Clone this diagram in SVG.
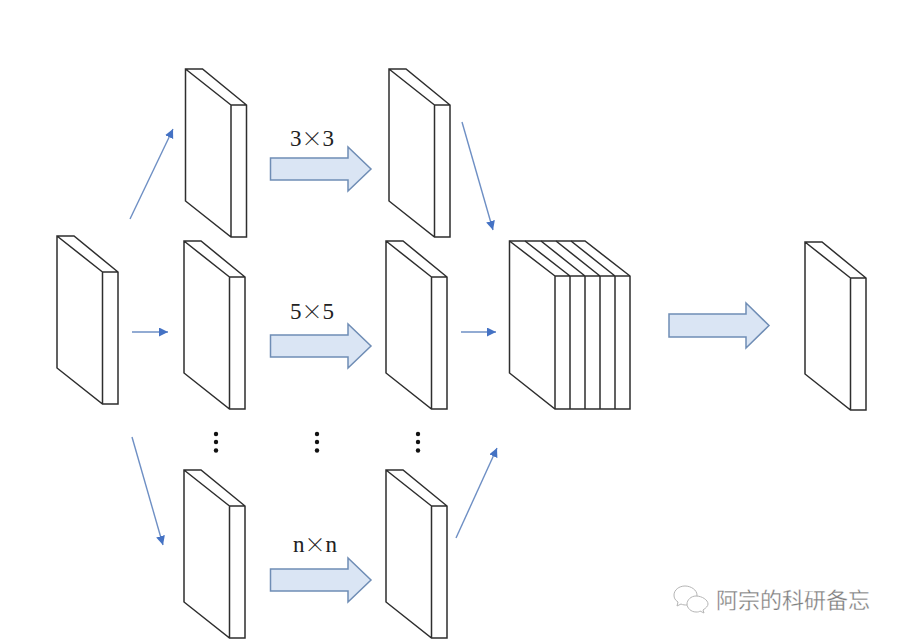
<svg xmlns="http://www.w3.org/2000/svg" width="897" height="640" viewBox="0 0 897 640">
<style>
.p{fill:#fff;stroke:#2e2e2e;stroke-width:1.5;stroke-linejoin:miter}
.b{fill:#dae5f4;stroke:#6f8db5;stroke-width:1.5}
.c{fill:none;stroke:#6e8fc4;stroke-width:1.4}
.l{font-family:"Liberation Serif","Noto Sans CJK SC",serif;font-size:23px;fill:#222;text-anchor:middle}
.x{font-family:"Noto Sans CJK SC",sans-serif;font-size:21px;font-weight:300}
.d{fill:#111}
.w{font-family:"Noto Sans CJK SC",sans-serif;font-size:22px;fill:#7d7d7d;stroke:#fff;stroke-width:0.3}
.i{fill:#fff;stroke:#b5b5b5;stroke-width:1}
</style>
<defs>
<marker id="a" markerUnits="userSpaceOnUse" markerWidth="10" markerHeight="10" refX="9" refY="4.5" orient="auto"><path d="M0 0L9 4.500L0 9Z" fill="#4472c4"/></marker>
<g id="plate"><path class="p" d="M0 0H17L62 36V168H46L0 132ZM0 0L46 36V168M46 36H62"/></g>
<g id="plate2"><path class="p" d="M0 0H17L61 36V168H45.500L0 132ZM0 0L45.500 36V168M45.500 36H61"/></g>
<g id="dots"><circle class="d" cy="0" r="2.200"/><circle class="d" cy="8" r="2.200"/><circle class="d" cy="16.500" r="2.200"/></g>
</defs>
<rect width="897" height="640" fill="#fff"/>
<g id="connectors">
<path class="c" marker-end="url(#a)" d="M130 219L173 129"/>
<path class="c" marker-end="url(#a)" d="M132 332H168"/>
<path class="c" marker-end="url(#a)" d="M132 437L163 545"/>
<path class="c" marker-end="url(#a)" d="M462 122L493 230"/>
<path class="c" marker-end="url(#a)" d="M461 332H496"/>
<path class="c" marker-end="url(#a)" d="M456 538L497 448"/>
</g>
<g id="input"><use href="#plate2" x="57" y="236"/></g>
<g id="branch1a"><use href="#plate2" x="185.500" y="69"/></g>
<g id="branch2a"><use href="#plate2" x="184" y="241"/></g>
<g id="branchna"><use href="#plate2" x="184" y="470"/></g>
<g id="branch1b"><use href="#plate2" x="389" y="69"/></g>
<g id="branch2b"><use href="#plate2" x="386" y="241"/></g>
<g id="branchnb"><use href="#plate2" x="386" y="470"/></g>
<g id="output"><use href="#plate2" x="805" y="242"/></g>
<g id="stack">
<path class="p" d="M509.500 241H585L630 276V409H555L509.500 373Z"/>
<path class="p" style="fill:none" d="M509.500 241L555 276V409M525 241L570 276V409M541 241L585 276V409M556 241L600 276V409M571 241L615 276V409M555 276H630"/>
</g>
<g id="arrow1"><path class="b" d="M270.500 158H348V147L371 169L348 191V180H270.500Z"/></g>
<g id="arrow2"><path class="b" d="M270.500 335H348V324L371 346L348 368V357H270.500Z"/></g>
<g id="arrown"><path class="b" d="M270.500 569H348V558L371 580L348 602V591H270.500Z"/></g>
<g id="arrow3"><path class="b" d="M669 314H746V303L769 325.500L746 348V337H669Z"/></g>
<g id="label1"><text class="l" x="312" y="145.500">3<tspan class="x">×</tspan>3</text></g>
<g id="label2"><text class="l" x="312" y="318.500">5<tspan class="x">×</tspan>5</text></g>
<g id="labeln"><text class="l" x="315" y="552">n<tspan class="x">×</tspan>n</text></g>
<g id="dots-a"><use href="#dots" x="216" y="434"/></g>
<g id="dots-b"><use href="#dots" x="317" y="434"/></g>
<g id="dots-c"><use href="#dots" x="418" y="434"/></g>
<g id="watermark">
<path class="i" d="M685 586c-6 0-11 4-11 9 0 3 1 5 4 7l-1 4 4-2c2 1 4 1 6 1 6 0 10-5 10-10s-6-9-12-9Z"/>
<path class="i" d="M696 596c-5 0-9 4-9 8s4 8 9 8c2 0 3 0 4-1l4 2-1-3c3-2 5-4 5-6 0-4-6-8-12-8Z"/>
<text class="w" x="716" y="608">阿宗的科研备忘</text>
</g>
</svg>
